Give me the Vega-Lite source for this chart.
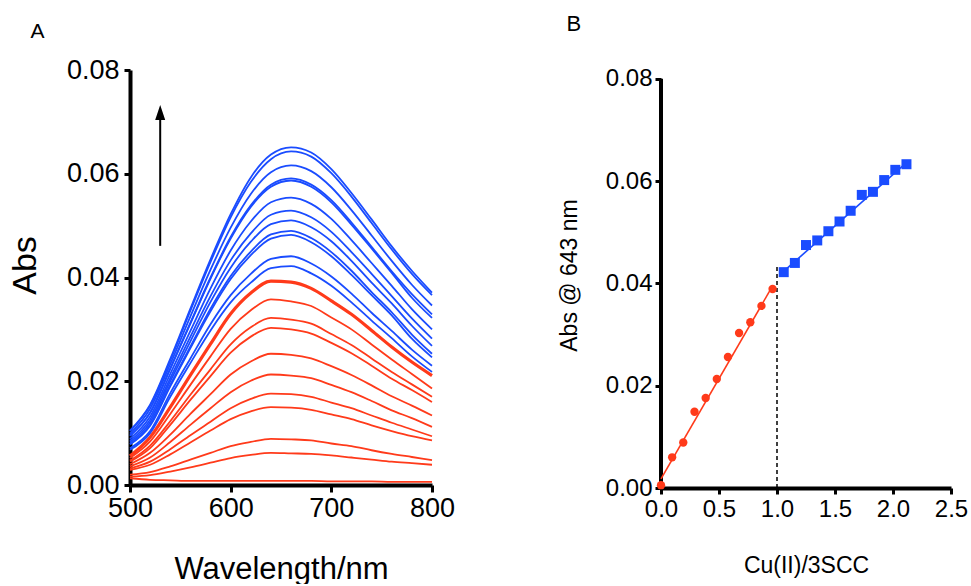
{
"$schema":"https://vega.github.io/schema/vega-lite/v6.json",
"padding":{"left":8,"top":12,"right":0,"bottom":0},
"spacing":103,
"config":{"view":{"stroke":null},"font":"Liberation Sans",
"axis":{"grid":false,"domainColor":"black","tickColor":"black","labelColor":"black","titleColor":"black","titleFontWeight":"normal","labelFont":"Liberation Sans","titleFont":"Liberation Sans","labelOverlap":false}},
"datasets":{
"spectra":[
{"id":"R1","set":"red","w":500,"a":0.0013},{"id":"R1","set":"red","w":520,"a":0.0010},{"id":"R1","set":"red","w":540,"a":0.0009},{"id":"R1","set":"red","w":560,"a":0.0008},{"id":"R1","set":"red","w":580,"a":0.0008},{"id":"R1","set":"red","w":600,"a":0.0008},{"id":"R1","set":"red","w":620,"a":0.0008},{"id":"R1","set":"red","w":640,"a":0.0008},{"id":"R1","set":"red","w":660,"a":0.0008},{"id":"R1","set":"red","w":680,"a":0.0008},{"id":"R1","set":"red","w":700,"a":0.0007},{"id":"R1","set":"red","w":720,"a":0.0007},{"id":"R1","set":"red","w":740,"a":0.0007},{"id":"R1","set":"red","w":760,"a":0.0006},{"id":"R1","set":"red","w":780,"a":0.0006},{"id":"R1","set":"red","w":800,"a":0.0006},
{"id":"R2","set":"red","w":500,"a":0.0016},{"id":"R2","set":"red","w":520,"a":0.0019},{"id":"R2","set":"red","w":540,"a":0.0026},{"id":"R2","set":"red","w":560,"a":0.0034},{"id":"R2","set":"red","w":580,"a":0.0043},{"id":"R2","set":"red","w":600,"a":0.0052},{"id":"R2","set":"red","w":620,"a":0.0058},{"id":"R2","set":"red","w":640,"a":0.0062},{"id":"R2","set":"red","w":660,"a":0.0061},{"id":"R2","set":"red","w":680,"a":0.0060},{"id":"R2","set":"red","w":700,"a":0.0057},{"id":"R2","set":"red","w":720,"a":0.0053},{"id":"R2","set":"red","w":740,"a":0.0049},{"id":"R2","set":"red","w":760,"a":0.0045},{"id":"R2","set":"red","w":780,"a":0.0042},{"id":"R2","set":"red","w":800,"a":0.0039},
{"id":"R3","set":"red","w":500,"a":0.0020},{"id":"R3","set":"red","w":520,"a":0.0025},{"id":"R3","set":"red","w":540,"a":0.0036},{"id":"R3","set":"red","w":560,"a":0.0049},{"id":"R3","set":"red","w":580,"a":0.0062},{"id":"R3","set":"red","w":600,"a":0.0075},{"id":"R3","set":"red","w":620,"a":0.0083},{"id":"R3","set":"red","w":640,"a":0.0089},{"id":"R3","set":"red","w":660,"a":0.0088},{"id":"R3","set":"red","w":680,"a":0.0086},{"id":"R3","set":"red","w":700,"a":0.0080},{"id":"R3","set":"red","w":720,"a":0.0075},{"id":"R3","set":"red","w":740,"a":0.0067},{"id":"R3","set":"red","w":760,"a":0.0060},{"id":"R3","set":"red","w":780,"a":0.0054},{"id":"R3","set":"red","w":800,"a":0.0048},
{"id":"R4","set":"red","w":500,"a":0.0029},{"id":"R4","set":"red","w":520,"a":0.0039},{"id":"R4","set":"red","w":540,"a":0.0059},{"id":"R4","set":"red","w":560,"a":0.0082},{"id":"R4","set":"red","w":580,"a":0.0105},{"id":"R4","set":"red","w":600,"a":0.0127},{"id":"R4","set":"red","w":620,"a":0.0142},{"id":"R4","set":"red","w":640,"a":0.0150},{"id":"R4","set":"red","w":660,"a":0.0149},{"id":"R4","set":"red","w":680,"a":0.0145},{"id":"R4","set":"red","w":700,"a":0.0136},{"id":"R4","set":"red","w":720,"a":0.0127},{"id":"R4","set":"red","w":740,"a":0.0115},{"id":"R4","set":"red","w":760,"a":0.0104},{"id":"R4","set":"red","w":780,"a":0.0094},{"id":"R4","set":"red","w":800,"a":0.0086},
{"id":"R5","set":"red","w":500,"a":0.0032},{"id":"R5","set":"red","w":520,"a":0.0045},{"id":"R5","set":"red","w":540,"a":0.0069},{"id":"R5","set":"red","w":560,"a":0.0096},{"id":"R5","set":"red","w":580,"a":0.0122},{"id":"R5","set":"red","w":600,"a":0.0148},{"id":"R5","set":"red","w":620,"a":0.0166},{"id":"R5","set":"red","w":640,"a":0.0176},{"id":"R5","set":"red","w":660,"a":0.0175},{"id":"R5","set":"red","w":680,"a":0.0170},{"id":"R5","set":"red","w":700,"a":0.0159},{"id":"R5","set":"red","w":720,"a":0.0148},{"id":"R5","set":"red","w":740,"a":0.0134},{"id":"R5","set":"red","w":760,"a":0.0120},{"id":"R5","set":"red","w":780,"a":0.0107},{"id":"R5","set":"red","w":800,"a":0.0094},
{"id":"R6","set":"red","w":500,"a":0.0036},{"id":"R6","set":"red","w":520,"a":0.0053},{"id":"R6","set":"red","w":540,"a":0.0083},{"id":"R6","set":"red","w":560,"a":0.0116},{"id":"R6","set":"red","w":580,"a":0.0148},{"id":"R6","set":"red","w":600,"a":0.0179},{"id":"R6","set":"red","w":620,"a":0.0201},{"id":"R6","set":"red","w":640,"a":0.0213},{"id":"R6","set":"red","w":660,"a":0.0211},{"id":"R6","set":"red","w":680,"a":0.0206},{"id":"R6","set":"red","w":700,"a":0.0193},{"id":"R6","set":"red","w":720,"a":0.0179},{"id":"R6","set":"red","w":740,"a":0.0162},{"id":"R6","set":"red","w":760,"a":0.0144},{"id":"R6","set":"red","w":780,"a":0.0129},{"id":"R6","set":"red","w":800,"a":0.0112},
{"id":"R7","set":"red","w":500,"a":0.0040},{"id":"R7","set":"red","w":520,"a":0.0062},{"id":"R7","set":"red","w":540,"a":0.0097},{"id":"R7","set":"red","w":560,"a":0.0137},{"id":"R7","set":"red","w":580,"a":0.0175},{"id":"R7","set":"red","w":600,"a":0.0213},{"id":"R7","set":"red","w":620,"a":0.0238},{"id":"R7","set":"red","w":640,"a":0.0253},{"id":"R7","set":"red","w":660,"a":0.0251},{"id":"R7","set":"red","w":680,"a":0.0244},{"id":"R7","set":"red","w":700,"a":0.0229},{"id":"R7","set":"red","w":720,"a":0.0212},{"id":"R7","set":"red","w":740,"a":0.0192},{"id":"R7","set":"red","w":760,"a":0.0171},{"id":"R7","set":"red","w":780,"a":0.0153},{"id":"R7","set":"red","w":800,"a":0.0134},
{"id":"R8","set":"red","w":500,"a":0.0045},{"id":"R8","set":"red","w":520,"a":0.0071},{"id":"R8","set":"red","w":540,"a":0.0116},{"id":"R8","set":"red","w":560,"a":0.0164},{"id":"R8","set":"red","w":580,"a":0.0210},{"id":"R8","set":"red","w":600,"a":0.0255},{"id":"R8","set":"red","w":620,"a":0.0286},{"id":"R8","set":"red","w":640,"a":0.0303},{"id":"R8","set":"red","w":660,"a":0.0300},{"id":"R8","set":"red","w":680,"a":0.0292},{"id":"R8","set":"red","w":700,"a":0.0274},{"id":"R8","set":"red","w":720,"a":0.0254},{"id":"R8","set":"red","w":740,"a":0.0230},{"id":"R8","set":"red","w":760,"a":0.0205},{"id":"R8","set":"red","w":780,"a":0.0183},{"id":"R8","set":"red","w":800,"a":0.0160},
{"id":"R9","set":"red","w":500,"a":0.0047},{"id":"R9","set":"red","w":520,"a":0.0076},{"id":"R9","set":"red","w":540,"a":0.0123},{"id":"R9","set":"red","w":560,"a":0.0174},{"id":"R9","set":"red","w":580,"a":0.0223},{"id":"R9","set":"red","w":600,"a":0.0271},{"id":"R9","set":"red","w":620,"a":0.0304},{"id":"R9","set":"red","w":640,"a":0.0322},{"id":"R9","set":"red","w":660,"a":0.0319},{"id":"R9","set":"red","w":680,"a":0.0311},{"id":"R9","set":"red","w":700,"a":0.0291},{"id":"R9","set":"red","w":720,"a":0.0270},{"id":"R9","set":"red","w":740,"a":0.0244},{"id":"R9","set":"red","w":760,"a":0.0218},{"id":"R9","set":"red","w":780,"a":0.0194},{"id":"R9","set":"red","w":800,"a":0.0170},
{"id":"R10","set":"red","w":500,"a":0.0052},{"id":"R10","set":"red","w":520,"a":0.0084},{"id":"R10","set":"red","w":540,"a":0.0137},{"id":"R10","set":"red","w":560,"a":0.0193},{"id":"R10","set":"red","w":580,"a":0.0248},{"id":"R10","set":"red","w":600,"a":0.0301},{"id":"R10","set":"red","w":620,"a":0.0337},{"id":"R10","set":"red","w":640,"a":0.0358},{"id":"R10","set":"red","w":660,"a":0.0354},{"id":"R10","set":"red","w":680,"a":0.0345},{"id":"R10","set":"red","w":700,"a":0.0323},{"id":"R10","set":"red","w":720,"a":0.0300},{"id":"R10","set":"red","w":740,"a":0.0271},{"id":"R10","set":"red","w":760,"a":0.0242},{"id":"R10","set":"red","w":780,"a":0.0214},{"id":"R10","set":"red","w":800,"a":0.0186},
{"id":"B1","set":"blue","w":500,"a":0.0068},{"id":"B1","set":"blue","w":520,"a":0.0100},{"id":"B1","set":"blue","w":540,"a":0.0170},{"id":"B1","set":"blue","w":560,"a":0.0235},{"id":"B1","set":"blue","w":580,"a":0.0298},{"id":"B1","set":"blue","w":600,"a":0.0352},{"id":"B1","set":"blue","w":620,"a":0.0390},{"id":"B1","set":"blue","w":640,"a":0.0418},{"id":"B1","set":"blue","w":660,"a":0.0422},{"id":"B1","set":"blue","w":680,"a":0.0408},{"id":"B1","set":"blue","w":700,"a":0.0384},{"id":"B1","set":"blue","w":720,"a":0.0352},{"id":"B1","set":"blue","w":740,"a":0.0317},{"id":"B1","set":"blue","w":760,"a":0.0283},{"id":"B1","set":"blue","w":780,"a":0.0248},{"id":"B1","set":"blue","w":800,"a":0.0218},
{"id":"B2","set":"blue","w":500,"a":0.0071},{"id":"B2","set":"blue","w":520,"a":0.0104},{"id":"B2","set":"blue","w":540,"a":0.0177},{"id":"B2","set":"blue","w":560,"a":0.0244},{"id":"B2","set":"blue","w":580,"a":0.0310},{"id":"B2","set":"blue","w":600,"a":0.0366},{"id":"B2","set":"blue","w":620,"a":0.0407},{"id":"B2","set":"blue","w":640,"a":0.0436},{"id":"B2","set":"blue","w":660,"a":0.0441},{"id":"B2","set":"blue","w":680,"a":0.0427},{"id":"B2","set":"blue","w":700,"a":0.0402},{"id":"B2","set":"blue","w":720,"a":0.0369},{"id":"B2","set":"blue","w":740,"a":0.0332},{"id":"B2","set":"blue","w":760,"a":0.0297},{"id":"B2","set":"blue","w":780,"a":0.0261},{"id":"B2","set":"blue","w":800,"a":0.0230},
{"id":"B3","set":"blue","w":500,"a":0.0078},{"id":"B3","set":"blue","w":520,"a":0.0114},{"id":"B3","set":"blue","w":540,"a":0.0190},{"id":"B3","set":"blue","w":560,"a":0.0264},{"id":"B3","set":"blue","w":580,"a":0.0335},{"id":"B3","set":"blue","w":600,"a":0.0397},{"id":"B3","set":"blue","w":620,"a":0.0443},{"id":"B3","set":"blue","w":640,"a":0.0475},{"id":"B3","set":"blue","w":660,"a":0.0482},{"id":"B3","set":"blue","w":680,"a":0.0468},{"id":"B3","set":"blue","w":700,"a":0.0441},{"id":"B3","set":"blue","w":720,"a":0.0405},{"id":"B3","set":"blue","w":740,"a":0.0366},{"id":"B3","set":"blue","w":760,"a":0.0327},{"id":"B3","set":"blue","w":780,"a":0.0282},{"id":"B3","set":"blue","w":800,"a":0.0246},
{"id":"B4","set":"blue","w":500,"a":0.0079},{"id":"B4","set":"blue","w":520,"a":0.0116},{"id":"B4","set":"blue","w":540,"a":0.0193},{"id":"B4","set":"blue","w":560,"a":0.0267},{"id":"B4","set":"blue","w":580,"a":0.0340},{"id":"B4","set":"blue","w":600,"a":0.0403},{"id":"B4","set":"blue","w":620,"a":0.0450},{"id":"B4","set":"blue","w":640,"a":0.0483},{"id":"B4","set":"blue","w":660,"a":0.0490},{"id":"B4","set":"blue","w":680,"a":0.0476},{"id":"B4","set":"blue","w":700,"a":0.0449},{"id":"B4","set":"blue","w":720,"a":0.0413},{"id":"B4","set":"blue","w":740,"a":0.0372},{"id":"B4","set":"blue","w":760,"a":0.0333},{"id":"B4","set":"blue","w":780,"a":0.0290},{"id":"B4","set":"blue","w":800,"a":0.0253},
{"id":"B5","set":"blue","w":500,"a":0.0082},{"id":"B5","set":"blue","w":520,"a":0.0121},{"id":"B5","set":"blue","w":540,"a":0.0200},{"id":"B5","set":"blue","w":560,"a":0.0277},{"id":"B5","set":"blue","w":580,"a":0.0353},{"id":"B5","set":"blue","w":600,"a":0.0419},{"id":"B5","set":"blue","w":620,"a":0.0469},{"id":"B5","set":"blue","w":640,"a":0.0503},{"id":"B5","set":"blue","w":660,"a":0.0510},{"id":"B5","set":"blue","w":680,"a":0.0497},{"id":"B5","set":"blue","w":700,"a":0.0470},{"id":"B5","set":"blue","w":720,"a":0.0432},{"id":"B5","set":"blue","w":740,"a":0.0390},{"id":"B5","set":"blue","w":760,"a":0.0350},{"id":"B5","set":"blue","w":780,"a":0.0307},{"id":"B5","set":"blue","w":800,"a":0.0268},
{"id":"B6","set":"blue","w":500,"a":0.0085},{"id":"B6","set":"blue","w":520,"a":0.0126},{"id":"B6","set":"blue","w":540,"a":0.0206},{"id":"B6","set":"blue","w":560,"a":0.0286},{"id":"B6","set":"blue","w":580,"a":0.0364},{"id":"B6","set":"blue","w":600,"a":0.0433},{"id":"B6","set":"blue","w":620,"a":0.0485},{"id":"B6","set":"blue","w":640,"a":0.0521},{"id":"B6","set":"blue","w":660,"a":0.0529},{"id":"B6","set":"blue","w":680,"a":0.0516},{"id":"B6","set":"blue","w":700,"a":0.0488},{"id":"B6","set":"blue","w":720,"a":0.0449},{"id":"B6","set":"blue","w":740,"a":0.0407},{"id":"B6","set":"blue","w":760,"a":0.0364},{"id":"B6","set":"blue","w":780,"a":0.0321},{"id":"B6","set":"blue","w":800,"a":0.0282},
{"id":"B7","set":"blue","w":500,"a":0.0089},{"id":"B7","set":"blue","w":520,"a":0.0132},{"id":"B7","set":"blue","w":540,"a":0.0214},{"id":"B7","set":"blue","w":560,"a":0.0297},{"id":"B7","set":"blue","w":580,"a":0.0379},{"id":"B7","set":"blue","w":600,"a":0.0452},{"id":"B7","set":"blue","w":620,"a":0.0508},{"id":"B7","set":"blue","w":640,"a":0.0545},{"id":"B7","set":"blue","w":660,"a":0.0554},{"id":"B7","set":"blue","w":680,"a":0.0542},{"id":"B7","set":"blue","w":700,"a":0.0513},{"id":"B7","set":"blue","w":720,"a":0.0472},{"id":"B7","set":"blue","w":740,"a":0.0428},{"id":"B7","set":"blue","w":760,"a":0.0384},{"id":"B7","set":"blue","w":780,"a":0.0339},{"id":"B7","set":"blue","w":800,"a":0.0300},
{"id":"B8","set":"blue","w":500,"a":0.0095},{"id":"B8","set":"blue","w":520,"a":0.0139},{"id":"B8","set":"blue","w":540,"a":0.0224},{"id":"B8","set":"blue","w":560,"a":0.0311},{"id":"B8","set":"blue","w":580,"a":0.0398},{"id":"B8","set":"blue","w":600,"a":0.0475},{"id":"B8","set":"blue","w":620,"a":0.0536},{"id":"B8","set":"blue","w":640,"a":0.0575},{"id":"B8","set":"blue","w":660,"a":0.0587},{"id":"B8","set":"blue","w":680,"a":0.0575},{"id":"B8","set":"blue","w":700,"a":0.0545},{"id":"B8","set":"blue","w":720,"a":0.0502},{"id":"B8","set":"blue","w":740,"a":0.0456},{"id":"B8","set":"blue","w":760,"a":0.0409},{"id":"B8","set":"blue","w":780,"a":0.0361},{"id":"B8","set":"blue","w":800,"a":0.0322},
{"id":"B9","set":"blue","w":500,"a":0.0095},{"id":"B9","set":"blue","w":520,"a":0.0140},{"id":"B9","set":"blue","w":540,"a":0.0225},{"id":"B9","set":"blue","w":560,"a":0.0313},{"id":"B9","set":"blue","w":580,"a":0.0400},{"id":"B9","set":"blue","w":600,"a":0.0478},{"id":"B9","set":"blue","w":620,"a":0.0539},{"id":"B9","set":"blue","w":640,"a":0.0579},{"id":"B9","set":"blue","w":660,"a":0.0591},{"id":"B9","set":"blue","w":680,"a":0.0579},{"id":"B9","set":"blue","w":700,"a":0.0549},{"id":"B9","set":"blue","w":720,"a":0.0506},{"id":"B9","set":"blue","w":740,"a":0.0459},{"id":"B9","set":"blue","w":760,"a":0.0412},{"id":"B9","set":"blue","w":780,"a":0.0368},{"id":"B9","set":"blue","w":800,"a":0.0329},
{"id":"B10","set":"blue","w":500,"a":0.0099},{"id":"B10","set":"blue","w":520,"a":0.0147},{"id":"B10","set":"blue","w":540,"a":0.0233},{"id":"B10","set":"blue","w":560,"a":0.0325},{"id":"B10","set":"blue","w":580,"a":0.0415},{"id":"B10","set":"blue","w":600,"a":0.0496},{"id":"B10","set":"blue","w":620,"a":0.0561},{"id":"B10","set":"blue","w":640,"a":0.0603},{"id":"B10","set":"blue","w":660,"a":0.0616},{"id":"B10","set":"blue","w":680,"a":0.0605},{"id":"B10","set":"blue","w":700,"a":0.0574},{"id":"B10","set":"blue","w":720,"a":0.0530},{"id":"B10","set":"blue","w":740,"a":0.0481},{"id":"B10","set":"blue","w":760,"a":0.0432},{"id":"B10","set":"blue","w":780,"a":0.0386},{"id":"B10","set":"blue","w":800,"a":0.0346},
{"id":"B11","set":"blue","w":500,"a":0.0104},{"id":"B11","set":"blue","w":520,"a":0.0153},{"id":"B11","set":"blue","w":540,"a":0.0240},{"id":"B11","set":"blue","w":560,"a":0.0336},{"id":"B11","set":"blue","w":580,"a":0.0430},{"id":"B11","set":"blue","w":600,"a":0.0516},{"id":"B11","set":"blue","w":620,"a":0.0584},{"id":"B11","set":"blue","w":640,"a":0.0628},{"id":"B11","set":"blue","w":660,"a":0.0643},{"id":"B11","set":"blue","w":680,"a":0.0633},{"id":"B11","set":"blue","w":700,"a":0.0601},{"id":"B11","set":"blue","w":720,"a":0.0556},{"id":"B11","set":"blue","w":740,"a":0.0505},{"id":"B11","set":"blue","w":760,"a":0.0454},{"id":"B11","set":"blue","w":780,"a":0.0407},{"id":"B11","set":"blue","w":800,"a":0.0366},
{"id":"B12","set":"blue","w":500,"a":0.0105},{"id":"B12","set":"blue","w":520,"a":0.0155},{"id":"B12","set":"blue","w":540,"a":0.0243},{"id":"B12","set":"blue","w":560,"a":0.0340},{"id":"B12","set":"blue","w":580,"a":0.0435},{"id":"B12","set":"blue","w":600,"a":0.0522},{"id":"B12","set":"blue","w":620,"a":0.0593},{"id":"B12","set":"blue","w":640,"a":0.0637},{"id":"B12","set":"blue","w":660,"a":0.0651},{"id":"B12","set":"blue","w":680,"a":0.0641},{"id":"B12","set":"blue","w":700,"a":0.0609},{"id":"B12","set":"blue","w":720,"a":0.0563},{"id":"B12","set":"blue","w":740,"a":0.0512},{"id":"B12","set":"blue","w":760,"a":0.0460},{"id":"B12","set":"blue","w":780,"a":0.0413},{"id":"B12","set":"blue","w":800,"a":0.0371}
],
"thick":[
{"id":"R11","set":"red","w":500,"a":0.0056},{"id":"R11","set":"red","w":520,"a":0.0092},{"id":"R11","set":"red","w":540,"a":0.0150},{"id":"R11","set":"red","w":560,"a":0.0212},{"id":"R11","set":"red","w":580,"a":0.0272},{"id":"R11","set":"red","w":600,"a":0.0330},{"id":"R11","set":"red","w":620,"a":0.0370},{"id":"R11","set":"red","w":640,"a":0.0393},{"id":"R11","set":"red","w":660,"a":0.0391},{"id":"R11","set":"red","w":680,"a":0.0379},{"id":"R11","set":"red","w":700,"a":0.0355},{"id":"R11","set":"red","w":720,"a":0.0329},{"id":"R11","set":"red","w":740,"a":0.0298},{"id":"R11","set":"red","w":760,"a":0.0266},{"id":"R11","set":"red","w":780,"a":0.0237},{"id":"R11","set":"red","w":800,"a":0.0211}
],
"titr":[
{"grp":"red","r":0.000,"abs":0.00055},{"grp":"red","r":0.096,"abs":0.0060},{"grp":"red","r":0.192,"abs":0.0089},{"grp":"red","r":0.289,"abs":0.0149},{"grp":"red","r":0.385,"abs":0.0176},{"grp":"red","r":0.481,"abs":0.0213},{"grp":"red","r":0.577,"abs":0.0256},{"grp":"red","r":0.673,"abs":0.0303},{"grp":"red","r":0.770,"abs":0.0324},{"grp":"red","r":0.866,"abs":0.0356},{"grp":"red","r":0.962,"abs":0.0389},
{"grp":"blue","r":1.058,"abs":0.0422},{"grp":"blue","r":1.154,"abs":0.0440},{"grp":"blue","r":1.250,"abs":0.0475},{"grp":"blue","r":1.347,"abs":0.0484},{"grp":"blue","r":1.443,"abs":0.0502},{"grp":"blue","r":1.539,"abs":0.0521},{"grp":"blue","r":1.635,"abs":0.0542},{"grp":"blue","r":1.731,"abs":0.0573},{"grp":"blue","r":1.827,"abs":0.0579},{"grp":"blue","r":1.924,"abs":0.0602},{"grp":"blue","r":2.020,"abs":0.0622},{"grp":"blue","r":2.116,"abs":0.0633}
],
"fits":[
{"grp":"red","r":0,"abs":0.0018},{"grp":"red","r":0.962,"abs":0.0395},
{"grp":"blue","r":1.03,"abs":0.0418},{"grp":"blue","r":2.116,"abs":0.0636}
]
},
"hconcat":[
{
"width":302,"height":415,
"resolve":{"axis":{"x":"independent"}},
"layer":[
{"data":{"name":"spectra"},"mark":{"type":"line","interpolate":"monotone","strokeWidth":1.8},
"encoding":{
"x":{"field":"w","type":"quantitative","scale":{"domain":[500,800],"nice":false},
"axis":{"values":[500,600,700,800],"title":"Wavelength/nm","titleFontSize":31,"labelFontSize":27,"domainWidth":4,"tickWidth":3,"tickSize":7,"labelPadding":3,"titlePadding":33,"labelFlush":false}},
"y":{"field":"a","type":"quantitative","scale":{"domain":[0,0.08],"nice":false},
"axis":{"values":[0,0.02,0.04,0.06,0.08],"format":".2f","title":"Abs","titleFontSize":34,"labelFontSize":27,"domainWidth":4,"tickWidth":3,"tickSize":6,"labelPadding":5,"titlePadding":24,"titleY":195}},
"detail":{"field":"id","type":"nominal"},
"color":{"field":"set","type":"nominal","scale":{"domain":["red","blue"],"range":["#ff3a1a","#1a4cff"]},"legend":null}}},
{"data":{"name":"thick"},"mark":{"type":"line","interpolate":"monotone","strokeWidth":3.2,"color":"#ff3a1a"},
"encoding":{"x":{"field":"w","type":"quantitative","axis":null},"y":{"field":"a","type":"quantitative"}}},
{"data":{"values":[{}]},"mark":{"type":"rule","color":"black","strokeWidth":2},
"encoding":{"x":{"datum":530,"type":"quantitative","axis":{"orient":"top","domain":false,"ticks":false,"labels":false,"title":"A","titleFontSize":21,"titleX":-100,"titleY":-33,"titleAlign":"left","titleBaseline":"alphabetic","titleAngle":0}},"y":{"datum":0.0461},"y2":{"datum":0.0708}}},
{"data":{"values":[{}]},"mark":{"type":"point","shape":"M-0.67,1L0,-1L0.67,1Z","filled":true,"color":"black","size":225,"opacity":1},
"encoding":{"x":{"datum":530,"type":"quantitative","axis":null},"y":{"datum":0.0718}}}
]
},
{
"width":290,"height":418,
"resolve":{"axis":{"x":"independent"}},
"layer":[
{"data":{"values":[{}]},"mark":{"type":"rule","color":"black","strokeWidth":4},
"encoding":{"x":{"datum":0,"type":"quantitative","scale":{"domain":[0,2.5],"nice":false},
"axis":{"values":[0,0.5,1,1.5,2,2.5],"format":".1f","title":"Cu(II)/3SCC","titleFontSize":23,"labelFontSize":24,"domainWidth":4,"tickWidth":3,"tickSize":6,"labelPadding":3,"titlePadding":33,"labelFlush":false}},
"y":{"datum":0,"type":"quantitative","scale":{"domain":[0,0.08172],"nice":false},
"axis":{"values":[0,0.02,0.04,0.06,0.08],"format":".2f","title":"Abs @ 643 nm","titleFontSize":23,"labelFontSize":24,"domain":false,"tickWidth":3,"tickSize":6,"labelPadding":3,"titlePadding":24,"titleY":205}},
"y2":{"datum":0.08}}},
{"data":{"values":[{}]},"mark":{"type":"rule","color":"black","strokeWidth":1.5,"strokeDash":[4,3]},
"encoding":{"x":{"datum":1.0,"type":"quantitative","axis":{"orient":"top","domain":false,"ticks":false,"labels":false,"title":"B","titleFontSize":22,"titleX":-95,"titleY":-40,"titleAlign":"left","titleBaseline":"alphabetic","titleAngle":0}},"y":{"datum":0},"y2":{"datum":0.0432}}},
{"data":{"name":"fits"},"mark":{"type":"line","strokeWidth":1.6},
"encoding":{"x":{"field":"r","type":"quantitative","axis":null},"y":{"field":"abs","type":"quantitative"},
"detail":{"field":"grp","type":"nominal"},
"color":{"field":"grp","type":"nominal","scale":{"domain":["red","blue"],"range":["#ff3a1a","#1a4cff"]},"legend":null}}},
{"data":{"name":"titr"},"mark":{"type":"point","filled":true,"opacity":1},
"encoding":{"x":{"field":"r","type":"quantitative","axis":null},"y":{"field":"abs","type":"quantitative"},
"color":{"field":"grp","type":"nominal","scale":{"domain":["red","blue"],"range":["#ff3a1a","#1a4cff"]},"legend":null},
"shape":{"field":"grp","type":"nominal","scale":{"domain":["red","blue"],"range":["circle","square"]},"legend":null},
"size":{"field":"grp","type":"ordinal","scale":{"domain":["red","blue"],"range":[70,100]},"legend":null}}}
]
}
]
}
